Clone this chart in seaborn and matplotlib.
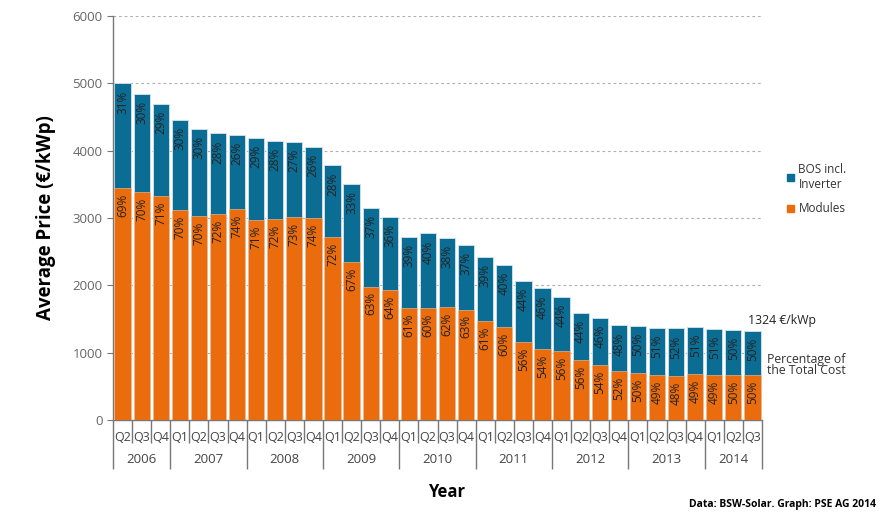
import matplotlib
matplotlib.use("Agg")
import matplotlib.pyplot as plt
import seaborn as sns
import pandas as pd
import numpy as np

# ── data ──
years = [2006] * 3 + [2007] * 4 + [2008] * 4 + [2009] * 4 + [2010] * 4 + \
        [2011] * 4 + [2012] * 4 + [2013] * 4 + [2014] * 3
quarters = ["Q2", "Q3", "Q4"] + ["Q1", "Q2", "Q3", "Q4"] * 7 + ["Q1", "Q2", "Q3"]
total_price = [5000, 4840, 4690, 4450, 4320, 4255, 4240, 4190, 4145, 4125, 4060,
               3780, 3500, 3145, 3010, 2715, 2770, 2710, 2600, 2415, 2300, 2060,
               1955, 1830, 1595, 1515, 1405, 1395, 1370, 1360, 1385, 1350, 1340, 1324]
module_share = [69, 70, 71, 70, 70, 72, 74, 71, 72, 73, 74, 72, 67, 63, 64, 61, 60,
                62, 63, 61, 60, 56, 54, 56, 56, 54, 52, 50, 49, 48, 49, 49, 50, 50]
bos_share = [31, 30, 29, 30, 30, 28, 26, 29, 28, 27, 26, 28, 33, 37, 36, 39, 40,
             38, 37, 39, 40, 44, 46, 44, 44, 46, 48, 50, 51, 52, 51, 51, 50, 50]

BLUE = "#0c6d94"
ORANGE = "#ea6c0c"
TXT = "#222222"
GREY = "#777777"

df = pd.DataFrame({
    "period": [f"{y} {q}" for y, q in zip(years, quarters)],
    "total": total_price,
    "modules": np.array(total_price) * np.array(module_share) / 100.0,
})

sns.set_style("white")
plt.rcParams["font.family"] = ["Open Sans", "DejaVu Sans"]

fig = plt.figure(figsize=(8.85, 5.17), dpi=100)
ax = fig.add_axes([113 / 885, 1 - 420 / 517, 649 / 885, 404 / 517])

sns.barplot(data=df, x="period", y="total", color=BLUE, saturation=1, width=0.85,
            edgecolor="#d3e4ec", linewidth=0.6, ax=ax, zorder=2)
sns.barplot(data=df, x="period", y="modules", color=ORANGE, saturation=1, width=0.85,
            edgecolor="#f3c9a6", linewidth=0.4, ax=ax, zorder=3)

n = len(df)
ax.set_xlim(-0.5, n - 0.5)
ax.set_ylim(0, 6000)
ax.set_yticks(range(0, 6001, 1000))
ax.tick_params(axis="y", labelsize=9.5, labelcolor="#666666", color=GREY,
               length=4, width=0.8, left=True)
ax.yaxis.grid(True, linestyle=(0, (2.5, 2.5)), color="#b0b0b0", linewidth=0.8)
ax.set_axisbelow(True)

for s in ["top", "right"]:
    ax.spines[s].set_visible(False)
for s in ["left", "bottom"]:
    ax.spines[s].set_color(GREY)
    ax.spines[s].set_linewidth(1)

# x axis: year separators long, quarter separators short
bounds = np.arange(n + 1) - 0.5
year_bounds = [b for i, b in enumerate(bounds) if i == 0 or i == n or years[i] != years[i - 1]]
quarter_bounds = [b for b in bounds if b not in year_bounds]
ax.set_xticks(year_bounds, labels=[""] * len(year_bounds))
ax.set_xticks(quarter_bounds, minor=True)
ax.tick_params(axis="x", which="major", length=35, width=1, color=GREY, bottom=True)
ax.tick_params(axis="x", which="minor", length=16.5, width=1, color=GREY, bottom=True)
ax.set_xlabel("")
ax.set_ylabel("")

for i, q in enumerate(quarters):
    ax.annotate(q, xy=(i, 0), xycoords=("data", "axes fraction"), xytext=(0, -12.5),
                textcoords="offset points", ha="center", va="center", fontsize=9,
                color="#444444")
for y in sorted(set(years)):
    idx = [i for i, yy in enumerate(years) if yy == y]
    ax.annotate(str(y), xy=((idx[0] + idx[-1]) / 2, 0), xycoords=("data", "axes fraction"),
                xytext=(0, -28.5), textcoords="offset points", ha="center", va="center",
                fontsize=9.5, color="#444444")

# percentage labels
for i in range(n):
    ax.annotate(f"{bos_share[i]}%", xy=(i, df["total"][i]), xytext=(0, -5),
                textcoords="offset points", rotation=90, ha="center", va="top",
                fontsize=8.5, color=TXT, zorder=5)
    ax.annotate(f"{module_share[i]}%", xy=(i, df["modules"][i]), xytext=(0, -4),
                textcoords="offset points", rotation=90, ha="center", va="top",
                fontsize=8.5, color=TXT, zorder=5)

ax.annotate(f"{total_price[-1]} €/kWp", xy=(n - 1, total_price[-1]), xytext=(-3, 3),
            textcoords="offset points", ha="left", va="bottom", fontsize=8.8, color=TXT,
            annotation_clip=False)
fig.text(767 / 885, 1 - 365 / 517, "Percentage of\nthe Total Cost", ha="left",
         va="center", fontsize=8.8, color="#333333", linespacing=0.9)

handles = [plt.Rectangle((0, 0), 1, 1, color=BLUE), plt.Rectangle((0, 0), 1, 1, color=ORANGE)]
fig.legend(handles, ["BOS incl.\nInverter", "Modules"], loc="upper left",
           bbox_to_anchor=(776 / 885, 1 - 152 / 517), frameon=False, fontsize=8.5,
           handlelength=0.6, handleheight=0.6, handletextpad=0.4, labelspacing=1.0,
           labelcolor="#333333")

ax.yaxis.set_label_coords(-0.088, 0.5)
ax.set_ylabel("Average Price (€/kWp)", fontsize=13.5, fontweight="bold", color="black")
fig.text(447 / 885, 1 - 492 / 517, "Year", ha="center", va="center", fontsize=12,
         fontweight="bold", color="black")
fig.text(876 / 885, 1 - 504 / 517, "Data: BSW-Solar. Graph: PSE AG 2014", ha="right",
         va="center", fontsize=7.5, fontweight="bold", color="black")

fig.savefig("out.png", dpi=100, facecolor="white")
